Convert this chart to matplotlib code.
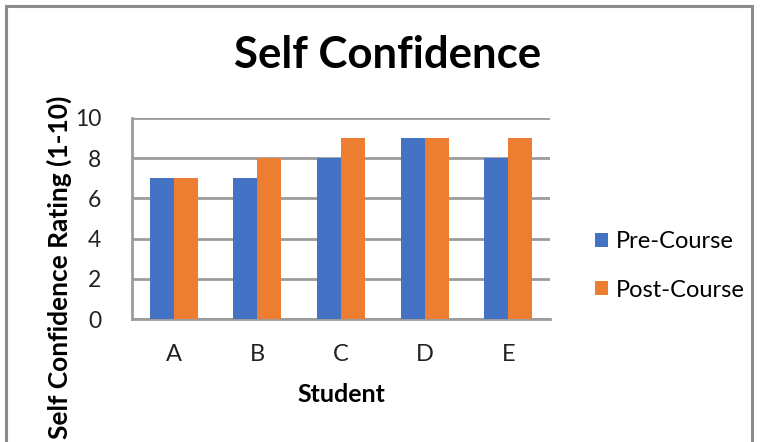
import matplotlib as mpl
import matplotlib.pyplot as plt
import numpy as np
from matplotlib.patches import Rectangle

mpl.rc("font", family=["Lato", "DejaVu Sans"])

students = ["A", "B", "C", "D", "E"]
pre_course = [7, 7, 8, 9, 8]
post_course = [7, 8, 9, 9, 9]
yticks = [0, 2, 4, 6, 8, 10]

W, H = 763, 442
fig = plt.figure(figsize=(W / 100, H / 100), dpi=100)

# outer chart border (bottom edge lies outside the crop)
fig.patches.append(Rectangle((6 / W, -0.05), (752 - 6) / W, 1.05 - 6 / H,
                             transform=fig.transFigure, fill=False,
                             edgecolor="#8c8c8c", linewidth=2.2))

ax = fig.add_axes([132 / W, 1 - 319 / H, (550 - 132) / W, (319 - 118) / H])

x = np.arange(len(students))
w = 0.287
ax.bar(x - w / 2, pre_course, w, color="#4472C4", label="Pre-Course", zorder=3)
ax.bar(x + w / 2, post_course, w, color="#ED7D31", label="Post-Course", zorder=3)

ax.set_xlim(-0.5, len(students) - 0.5)
ax.set_ylim(0, 10)
ax.set_yticks(yticks)
ax.set_xticks(x)
ax.set_xticklabels(students)
ax.tick_params(length=0, labelsize=17, colors="#222222")
ax.tick_params(axis="x", pad=18)
ax.tick_params(axis="y", labelsize=16.5, pad=22)
ax.yaxis.grid(True, color="#9c9c9c", linewidth=2, zorder=0)
for s in ["top", "right"]:
    ax.spines[s].set_visible(False)
for s in ["left", "bottom"]:
    ax.spines[s].set_color("#9c9c9c")
    ax.spines[s].set_linewidth(2)

fig.text(388 / W, 1 - 55 / H, "Self Confidence", ha="center", va="center",
         fontsize=31.5, fontweight="bold")
fig.text(341 / W, 1 - 395 / H, "Student", ha="center", va="center",
         fontsize=18, fontweight="bold")
fig.text(59 / W, 1 - 96 / H, "Self Confidence Rating (1-10)", ha="center",
         va="top", rotation=90, fontsize=19, fontweight="bold")

ax.legend(loc="center left", bbox_to_anchor=(595 / W, 1 - 266 / H),
          bbox_transform=fig.transFigure, frameon=False, fontsize=17,
          handlelength=0.55, handleheight=0.55, labelspacing=1.15,
          handletextpad=0.35, borderpad=0, borderaxespad=0)

fig.savefig("out.png", dpi=100)
